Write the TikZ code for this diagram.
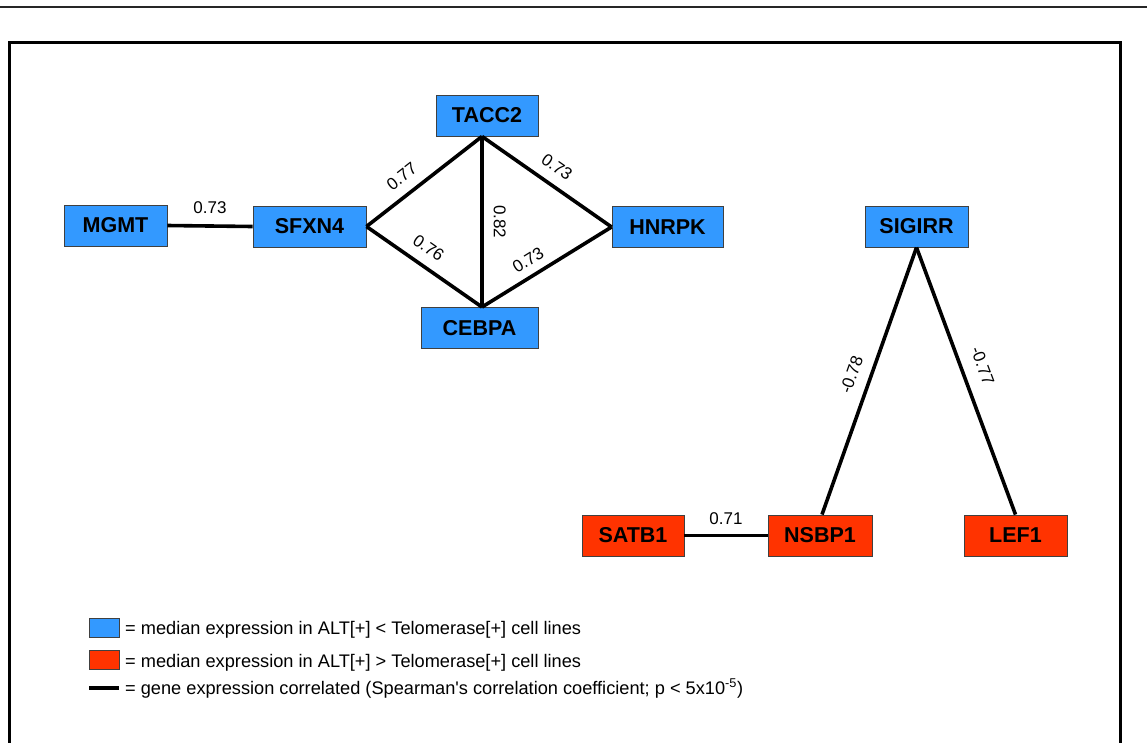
\documentclass[tikz,border=0pt]{standalone}
\usepackage{fontspec}
\setmainfont{Liberation Sans}
\usepackage{tikz}
\definecolor{lowblue}{RGB}{51,153,255}
\definecolor{highred}{RGB}{255,51,0}

\begin{document}
\begin{tikzpicture}[x=1pt,y=-1pt,
	gene/.style={draw=black!75,line width=0.9pt,minimum height=41pt,inner sep=0pt,font=\fontsize{21.5}{21.5}\selectfont\bfseries},
	low/.style={gene,fill=lowblue},
	high/.style={gene,fill=highred},
	link/.style={line width=3.6pt},
	weight/.style={font=\fontsize{17}{17}\selectfont,inner sep=2pt},
	legtext/.style={font=\fontsize{18.2}{20}\selectfont,anchor=base west,inner sep=0pt}]

	\useasboundingbox (0,0) rectangle (1147,742);
	\draw[line width=1.5pt,black!85] (0,7) -- (1147,7);
	\draw[line width=3pt] (9.5,800) -- (9.5,42.5) -- (1120,42.5) -- (1120,800);

	% genes
	\node[low,minimum width=103pt] (MGMT) at (115.5,225.5) {MGMT};
	\node[low,minimum width=113pt] (SFXN4) at (309.5,226.5) {SFXN4};
	\node[low,minimum width=102pt] (TACC2) at (487,115.5) {TACC2};
	\node[low,minimum width=111pt] (HNRPK) at (667.5,227) {HNRPK};
	\node[low,minimum width=117pt] (CEBPA) at (479.5,328) {CEBPA};
	\node[low,minimum width=103pt] (SIGIRR) at (916.5,226.5) {SIGIRR};
	\node[high,minimum width=102pt] (SATB1) at (633,535.5) {SATB1};
	\node[high,minimum width=104pt] (NSBP1) at (820,535.5) {NSBP1};
	\node[high,minimum width=103pt] (LEF1) at (1015.5,535.5) {LEF1};

	% correlations
	\draw[link] (MGMT.east) -- node[weight,above=9pt]{0.73} (SFXN4.west);
	\draw[link] (SFXN4.east) -- node[weight,pos=0.4,sloped,above=8pt]{0.77} ([xshift=-5pt]TACC2.south);
	\draw[link] ([xshift=-5pt]TACC2.south) -- node[weight,midway,sloped,above=8pt]{0.73} (HNRPK.west);
	\draw[link] ([xshift=-5pt]TACC2.south) -- node[weight,midway,sloped,above=8pt]{0.82} ([xshift=2.5pt]CEBPA.north);
	\draw[link] (SFXN4.east) -- node[weight,pos=0.45,sloped,above=8pt]{0.76} ([xshift=2.5pt]CEBPA.north);
	\draw[link] ([xshift=2.5pt]CEBPA.north) -- node[weight,pos=0.42,sloped,above=6pt]{0.73} (HNRPK.west);
	\draw[link] ([xshift=2pt]NSBP1.north) -- node[weight,midway,sloped,above=9pt]{-0.78} (SIGIRR.south);
	\draw[link] (SIGIRR.south) -- node[weight,pos=0.47,sloped,above=11pt]{-0.77} (LEF1.north);
	\draw[link] (SATB1.east) -- node[weight,above=7pt]{0.71} (NSBP1.west);

	% legend
	\node[low,minimum width=30pt,minimum height=19pt] (keylow) at (104,627.5) {};
	\node[high,minimum width=30pt,minimum height=19pt] (keyhigh) at (104,660) {};
	\coordinate (keya) at (89,688);
	\coordinate (keyb) at (119,688);
	\draw[link] (keya) -- (keyb);
	\node[legtext] (txtlow) at (125,634) {= median expression in ALT[+] < Telomerase[+] cell lines};
	\node[legtext] (txthigh) at (125,667) {= median expression in ALT[+] > Telomerase[+] cell lines};
	\node[legtext] (txtlink) at (125,694) {= gene expression correlated (Spearman\textquotesingle s correlation coefficient; p < 5x10\textsuperscript{-5})};

\end{tikzpicture}
\end{document}
